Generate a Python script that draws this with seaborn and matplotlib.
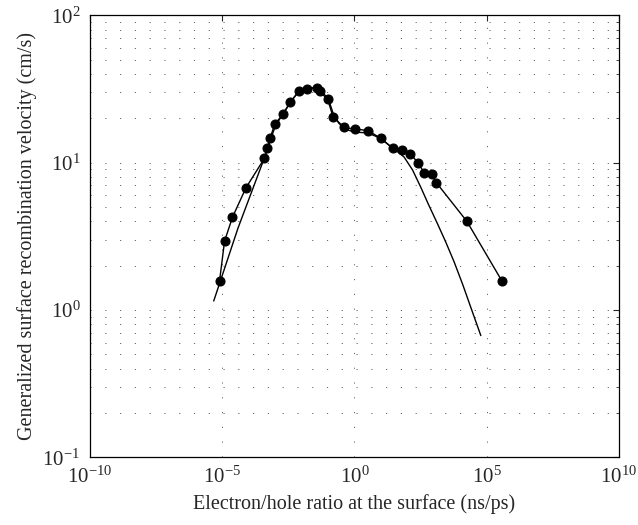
import numpy as np
import pandas as pd
import seaborn as sns
import matplotlib
matplotlib.use("Agg")
import matplotlib.pyplot as plt
from matplotlib.ticker import LogLocator, NullLocator

# measured points (dots + connecting line), x given as log10 of the ratio
meas_x = [-5.10, -4.91, -4.61, -4.10, -3.40, -3.30, -3.19, -3.01, -2.69, -2.43,
          -2.10, -1.81, -1.40, -1.31, -1.01, -0.81, -0.39, 0.01, 0.51, 1.00,
          1.45, 1.79, 2.11, 2.42, 2.64, 2.92, 3.10, 4.25, 5.58]
meas_y = [1.57, 2.93, 4.26, 6.75, 10.7, 12.5, 14.6, 18.3, 21.3, 25.6,
          30.5, 31.8, 32.2, 30.4, 26.8, 20.5, 17.3, 16.9, 16.5, 14.6,
          12.5, 12.1, 11.5, 9.9, 8.5, 8.3, 7.3, 4.0, 1.57]

# model curve (plain line)
model_x = [-5.32, -4.40, -3.40, -3.30, -3.00, -2.70, -2.40, -2.10, -1.80, -1.40,
           -1.30, -1.00, -0.80, -0.60, -0.40, 0.00, 0.50, 1.00, 1.45, 1.70,
           1.88, 2.20, 2.51, 2.80, 3.14, 3.45, 3.77, 4.10, 4.41, 4.78]
model_y = [1.15, 3.6, 10.8, 12.3, 17.5, 21.5, 26.0, 30.5, 32.0, 32.3,
           30.8, 27.5, 21.5, 18.6, 17.0, 16.1, 15.9, 14.6, 12.5, 11.6,
           10.9, 8.9, 6.8, 5.2, 3.85, 2.9, 2.12, 1.48, 1.03, 0.67]

meas = pd.DataFrame({'ratio': 10.0 ** np.array(meas_x), 'velocity': meas_y})
model = pd.DataFrame({'ratio': 10.0 ** np.array(model_x), 'velocity': model_y})

sns.set_style('white')
plt.rcParams['font.family'] = ['Liberation Serif', 'DejaVu Serif']
plt.rcParams['mathtext.fontset'] = 'custom'
plt.rcParams['mathtext.rm'] = 'Liberation Serif'
plt.rcParams['mathtext.it'] = 'Liberation Serif:italic'

fig = plt.figure(figsize=(6.38, 5.25), dpi=100)
ax = fig.add_axes([0.141, 0.129, 0.829, 0.842])

sns.lineplot(data=model, x='ratio', y='velocity', sort=False, estimator=None,
             color='black', linewidth=1.0, ax=ax)
sns.lineplot(data=meas, x='ratio', y='velocity', sort=False, estimator=None,
             color='black', linewidth=1.0, marker='o', markersize=6.5,
             markeredgecolor='black', ax=ax)

ax.set_xscale('log')
ax.set_yscale('log')
ax.set_xlim(1e-10, 1e10)
ax.set_ylim(0.1, 100)

ax.set_xticks([1e-10, 1e-5, 1e0, 1e5, 1e10])
ax.xaxis.set_minor_locator(NullLocator())
ax.yaxis.set_minor_locator(LogLocator(base=10, subs=np.arange(2, 10), numticks=20))

dots = (0, (1.2, 14))
ax.grid(which='major', axis='x', color='#666666', linestyle=dots, linewidth=0.7)
ax.grid(which='both', axis='y', color='#666666', linestyle=dots, linewidth=0.7)

for s in ax.spines.values():
    s.set_color('black')
    s.set_linewidth(0.9)

ax.tick_params(which='major', direction='in', length=4, width=0.8,
               labelsize=15, top=True, right=True, pad=7)
ax.tick_params(which='minor', direction='in', length=2, width=0.6, top=True, right=True)

ax.set_xlabel('Electron/hole ratio at the surface (ns/ps)', fontsize=14.5, labelpad=4)
ax.set_ylabel('Generalized surface recombination velocity (cm/s)', fontsize=14.5, labelpad=4)

plt.savefig('out.png', dpi=100)
